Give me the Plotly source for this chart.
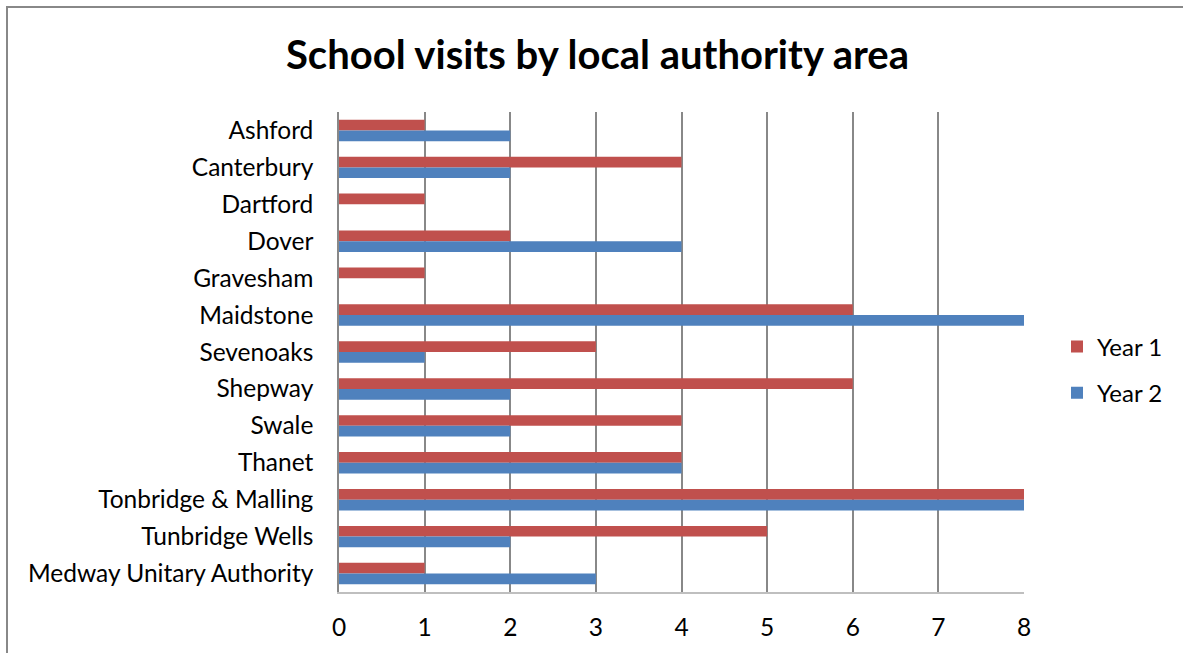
import plotly.graph_objects as go

categories = ["Ashford", "Canterbury", "Dartford", "Dover", "Gravesham", "Maidstone",
              "Sevenoaks", "Shepway", "Swale", "Thanet", "Tonbridge & Malling",
              "Tunbridge Wells", "Medway Unitary Authority"]
year1 = [1, 4, 1, 2, 1, 6, 3, 6, 4, 4, 8, 5, 1]
year2 = [2, 2, 0, 4, 0, 8, 1, 2, 2, 4, 8, 2, 3]
x_ticks = [0, 1, 2, 3, 4, 5, 6, 7, 8]

FONT = "Lato"
W, H = 1183, 653
L, R, T, B = 339, 159, 112, 61
pw, ph = W - L - R, H - T - B

fig = go.Figure()
fig.add_trace(go.Bar(y=categories, x=year1, name="Year 1", orientation="h",
                     marker=dict(color="#C0504D", line=dict(width=0)), legendgroup="a"))
fig.add_trace(go.Bar(y=categories, x=year2, name="Year 2", orientation="h",
                     marker=dict(color="#4F81BD", line=dict(width=0)), legendgroup="b"))

def px_x(p):
    return (p - L) / pw

def px_y(p):
    return (H - B - p) / ph

fig.update_layout(
    width=W, height=H,
    margin=dict(l=L, r=R, t=T, b=B, autoexpand=False),
    paper_bgcolor="white", plot_bgcolor="white",
    barmode="group", bargap=0.42, bargroupgap=0,
    font=dict(family=FONT, size=24.5, color="black"),
    title=dict(text="<b>School visits by local authority area</b>",
               font=dict(family=FONT, size=40, color="black"),
               x=597.5 / W, xref="container", xanchor="center",
               y=1 - 55 / H, yref="container", yanchor="middle"),
    xaxis=dict(range=[0, 8], tickvals=x_ticks, showgrid=True, gridcolor="#888888",
               gridwidth=1.5, zeroline=False, showline=True, linecolor="#BFBFBF",
               linewidth=1.5, ticks="", ticklabelstandoff=13, automargin=False,
               tickfont=dict(family=FONT, size=24.5), fixedrange=True),
    yaxis=dict(autorange="reversed", showgrid=False, showline=True,
               linecolor="#888888", linewidth=1.5, ticks="", ticklabelstandoff=19,
               automargin=False, tickfont=dict(family=FONT, size=24.5)),
    legend=dict(x=px_x(1057), xanchor="left", y=px_y(370), yanchor="middle",
                traceorder="grouped", tracegroupgap=12,
                font=dict(family=FONT, size=24), bgcolor="rgba(0,0,0,0)"),
    showlegend=True,
    shapes=[dict(type="rect", xref="paper", yref="paper",
                 x0=px_x(7), x1=px_x(1195), y0=px_y(670), y1=px_y(7),
                 line=dict(color="#888888", width=2), fillcolor="rgba(0,0,0,0)",
                 layer="below")],
)

fig.write_html("out.html")
